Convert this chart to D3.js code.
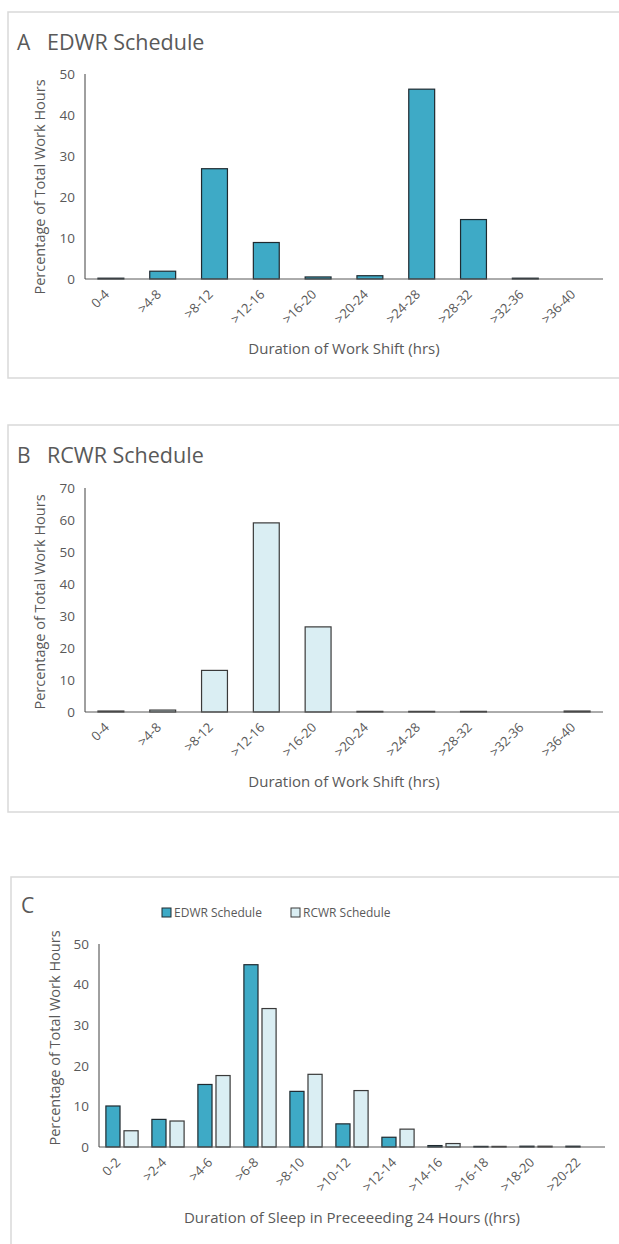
<!DOCTYPE html>
<html>
<head>
<meta charset="utf-8">
<script src="https://cdn.jsdelivr.net/npm/d3@7"></script>
<style>
  body { margin: 0; background: #fff; }
  svg { display: block; font-family: "Open Sans", sans-serif; }
</style>
</head>
<body>
<div id="chart"></div>
<script>
// shift duration categories (panels A and B)
const shiftCats = ["0-4", ">4-8", ">8-12", ">12-16", ">16-20", ">20-24", ">24-28", ">28-32", ">32-36", ">36-40"];
const edwrShift = [0.2, 1.9, 26.9, 8.9, 0.5, 0.8, 46.3, 14.5, 0.2, 0];
const rcwrShift = [0.3, 0.6, 13.0, 59.1, 26.6, 0.2, 0.2, 0.2, 0, 0.3];

// sleep duration categories (panel C)
const sleepCats = ["0-2", ">2-4", ">4-6", ">6-8", ">8-10", ">10-12", ">12-14", ">14-16", ">16-18", ">18-20", ">20-22"];
const edwrSleep = [10.1, 6.8, 15.4, 44.9, 13.7, 5.7, 2.4, 0.35, 0.15, 0.2, 0.2];
const rcwrSleep = [4.0, 6.4, 17.6, 34.1, 17.9, 13.9, 4.4, 0.85, 0.15, 0.2, 0];

const ticksA = [0, 10, 20, 30, 40, 50];
const ticksB = [0, 10, 20, 30, 40, 50, 60, 70];
const ticksC = [0, 10, 20, 30, 40, 50];

const seriesNames = ["EDWR Schedule", "RCWR Schedule"];

const EDWR_FILL = "#3eaac6", RCWR_FILL = "#daeef3";
const EDWR_STROKE = "#1f2a30", RCWR_STROKE = "#3a3a3a";
const TEXT = "#595959";

const svg = d3.select("#chart").append("svg")
    .attr("width", 619)
    .attr("height", 1244);

// panel frames
svg.append("rect").attr("x", 8).attr("y", 12).attr("width", 640).attr("height", 366)
    .attr("fill", "none").attr("stroke", "#d9d9d9").attr("stroke-width", 1.5);
svg.append("rect").attr("x", 8).attr("y", 425).attr("width", 640).attr("height", 387)
    .attr("fill", "none").attr("stroke", "#d9d9d9").attr("stroke-width", 1.5);
svg.append("rect").attr("x", 11).attr("y", 877).attr("width", 640).attr("height", 400)
    .attr("fill", "none").attr("stroke", "#d9d9d9").attr("stroke-width", 1.5);

function drawAxes(g, x, y, ticks, opt) {
    const [x0, x1] = x.range();
    const [y0, y1] = y.range();

    // y axis line
    g.append("line").attr("x1", x0).attr("x2", x0).attr("y1", y0).attr("y2", y1)
        .attr("stroke", "#404040").attr("stroke-width", 1);

    // y tick labels
    g.selectAll("text.ytick").data(ticks).enter().append("text")
        .attr("class", "ytick")
        .attr("x", x0 - 10)
        .attr("y", d => y(d))
        .attr("dy", "0.35em")
        .attr("text-anchor", "end")
        .attr("fill", TEXT)
        .style("font-size", "13.5px")
        .text(d => d);

    // x tick labels, rotated
    g.selectAll("text.xtick").data(x.domain()).enter().append("text")
        .attr("class", "xtick")
        .attr("transform", d => `translate(${x(d) + x.step() * (1 - x.paddingInner()) / 2 - 4},${y0 + 13}) rotate(-45)`)
        .attr("text-anchor", "end")
        .attr("dy", "0.35em")
        .attr("fill", TEXT)
        .style("font-size", "13px")
        .text(d => d);

    // axis titles
    g.append("text")
        .attr("x", (x0 + x1) / 2)
        .attr("y", opt.xTitleY)
        .attr("text-anchor", "middle")
        .attr("fill", TEXT)
        .style("font-size", "15px")
        .text(opt.xTitle);

    g.append("text")
        .attr("transform", `translate(${opt.yTitleX},${opt.yTitleMid}) rotate(-90)`)
        .attr("text-anchor", "middle")
        .attr("dy", "0.35em")
        .attr("fill", TEXT)
        .style("font-size", "14.5px")
        .text("Percentage of Total Work Hours");
}

function drawSingle(opt) {
    const g = svg.append("g");
    const x = d3.scaleBand().domain(opt.cats).range([85, 603])
        .paddingInner(0.5).paddingOuter(0.25);
    const y = d3.scaleLinear().domain([0, d3.max(opt.ticks)]).range([opt.y0, opt.yTop]);

    g.selectAll("rect.bar").data(opt.values).enter().append("rect")
        .attr("class", "bar")
        .attr("x", (d, i) => x(opt.cats[i]))
        .attr("y", d => y(d))
        .attr("width", x.bandwidth())
        .attr("height", d => y(0) - y(d))
        .attr("fill", opt.fill)
        .attr("stroke", opt.stroke)
        .attr("stroke-width", 1.2);

    // x axis line on top of bars
    g.append("line").attr("x1", 85).attr("x2", 603).attr("y1", y(0)).attr("y2", y(0))
        .attr("stroke", "#595959").attr("stroke-width", 1);

    drawAxes(g, x, y, opt.ticks, opt);

    // panel title
    g.append("text").attr("x", 17).attr("y", opt.titleY).attr("fill", TEXT)
        .style("font-size", "21px").text(opt.letter);
    g.append("text").attr("x", 47).attr("y", opt.titleY).attr("fill", TEXT)
        .style("font-size", "21.5px").text(opt.title);
}

drawSingle({
    cats: shiftCats, values: edwrShift, ticks: ticksA,
    y0: 279, yTop: 74, fill: EDWR_FILL, stroke: EDWR_STROKE,
    xTitle: "Duration of Work Shift (hrs)", xTitleY: 354,
    yTitleX: 40, yTitleMid: 187,
    letter: "A", title: "EDWR Schedule", titleY: 50
});

drawSingle({
    cats: shiftCats, values: rcwrShift, ticks: ticksB,
    y0: 712, yTop: 488, fill: RCWR_FILL, stroke: RCWR_STROKE,
    xTitle: "Duration of Work Shift (hrs)", xTitleY: 787,
    yTitleX: 40, yTitleMid: 602,
    letter: "B", title: "RCWR Schedule", titleY: 463
});

// panel C: grouped bars
(function () {
    const g = svg.append("g");
    const x = d3.scaleBand().domain(sleepCats).range([99, 605])
        .paddingInner(0.3).paddingOuter(0.15);
    const xs = d3.scaleBand().domain([0, 1]).range([0, x.bandwidth()]).paddingInner(0.22);
    const y = d3.scaleLinear().domain([0, d3.max(ticksC)]).range([1147, 944]);

    const series = [
        { values: edwrSleep, fill: EDWR_FILL, stroke: EDWR_STROKE },
        { values: rcwrSleep, fill: RCWR_FILL, stroke: RCWR_STROKE }
    ];

    series.forEach((s, si) => {
        g.selectAll(`rect.s${si}`).data(s.values).enter().append("rect")
            .attr("class", `s${si}`)
            .attr("x", (d, i) => x(sleepCats[i]) + xs(si))
            .attr("y", d => y(d))
            .attr("width", xs.bandwidth())
            .attr("height", d => y(0) - y(d))
            .attr("fill", s.fill)
            .attr("stroke", s.stroke)
            .attr("stroke-width", 1.2);
    });

    g.append("line").attr("x1", 99).attr("x2", 605).attr("y1", y(0)).attr("y2", y(0))
        .attr("stroke", "#595959").attr("stroke-width", 1);

    drawAxes(g, x, y, ticksC, {
        xTitle: "Duration of Sleep in Preceeeding 24 Hours ((hrs)", xTitleY: 1223,
        yTitleX: 55, yTitleMid: 1038
    });

    g.append("text").attr("x", 21).attr("y", 913).attr("fill", TEXT)
        .style("font-size", "21px").text("C");

    // legend
    const legX = [162, 291];
    seriesNames.forEach((name, i) => {
        g.append("rect").attr("x", legX[i]).attr("y", 908).attr("width", 9).attr("height", 9)
            .attr("fill", series[i].fill).attr("stroke", series[i].stroke).attr("stroke-width", 1);
        g.append("text").attr("x", legX[i] + 12).attr("y", 913).attr("dy", "0.35em")
            .attr("fill", TEXT).style("font-size", "12px").text(name);
    });
})();
</script>
</body>
</html>
